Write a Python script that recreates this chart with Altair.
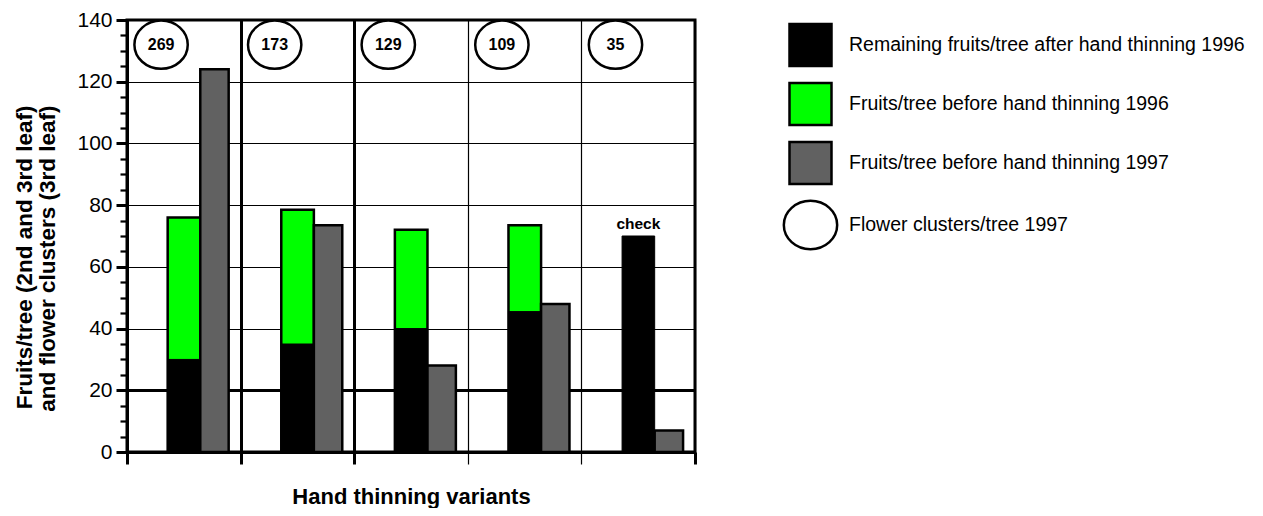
import altair as alt
import pandas as pd

# ---------------- data ----------------
variant_index = [0, 1, 2, 3, 4]                    # five hand thinning variants (unlabelled)
remaining_1996 = [30, 35, 40, 45.5, 70]            # black
before_1996 = [76, 78.5, 72, 73.5, None]           # green (no value for the check)
before_1997 = [124, 73.5, 28, 48, 7]               # grey
flower_clusters_1997 = [269, 173, 129, 109, 35]    # numbers in the ellipses
variant_notes = ["", "", "", "", "check"]

series_names = [
    "Remaining fruits/tree after hand thinning 1996",
    "Fruits/tree before hand thinning 1996",
    "Fruits/tree before hand thinning 1997",
    "Flower clusters/tree 1997",
]
series_colors = ["#000000", "#00ff00", "#616161", "#ffffff"]

y_ticks = list(range(0, 141, 5))
x_ticks = [0, 1, 2, 3, 4, 5]
y_title = ["Fruits/tree (2nd and 3rd leaf)", "and flower clusters (3rd leaf)"]
x_title = "Hand thinning variants"

# ---------------- layout / style constants ----------------
FONT = "Liberation Sans"
W, H = 568, 432
LEFT_BAR, MID_BAR, RIGHT_BAR, CIRCLE_X = 0.358, 0.645, 0.895, 0.30
FLOWER_Y = 132
SYMBOL_SIZE = 1764
ELLIPSE = "M-1.27,0A1.27,1.15,0,1,1,1.27,0A1.27,1.15,0,1,1,-1.27,0Z"
shape_range = ["square", "square", "square", ELLIPSE]

df = pd.DataFrame({
    "idx": variant_index,
    "remaining": remaining_1996,
    "before96": before_1996,
    "before97": before_1997,
    "flowers": flower_clusters_1997,
    "note": variant_notes,
})
df["xa"] = df["idx"] + LEFT_BAR
df["xb"] = df["idx"] + MID_BAR
df["xc"] = df["idx"] + RIGHT_BAR
df["xe"] = df["idx"] + CIRCLE_X
df["xm"] = (df["xa"] + df["xb"]) / 2
df["series"] = series_names[3]

x_scale = alt.Scale(domain=[0, 5], nice=False, zero=False)
y_scale = alt.Scale(domain=[0, 140], nice=False)

x_axis = alt.Axis(
    values=x_ticks, labels=False, title=x_title,
    titleFont=FONT, titleFontSize=22, titleFontWeight="bold", titleColor="black",
    titleBaseline="alphabetic", titleY=51,
    tickSize=12, tickColor="black",
    tickWidth={"condition": {"test": "datum.value == 3 || datum.value == 4", "value": 1.2}, "value": 3},
    domainColor="black", domainWidth=3,
    grid=True, gridColor="black",
    gridWidth={"condition": {"test": "datum.value == 1 || datum.value == 2", "value": 3}, "value": 1.2},
)

y_axis = alt.Axis(
    values=y_ticks,
    labelExpr="datum.value % 20 == 0 ? datum.label : ''",
    labelFont=FONT, labelFontSize=21, labelColor="black", labelPadding=4,
    labelOverlap=False, labelFlush=False,
    tickSize={"condition": {"test": "datum.value % 20 == 0", "value": 11}, "value": 7},
    tickWidth={"condition": {"test": "datum.value % 20 == 0", "value": 3}, "value": 2.2},
    tickColor="black", domainColor="black", domainWidth=3,
    grid=True, gridColor="black",
    gridOpacity={"condition": {"test": "datum.value % 20 == 0", "value": 1}, "value": 0},
    gridWidth={"condition": {"test": "datum.value == 20", "value": 3}, "value": 1.2},
    title=y_title, titleFont=FONT, titleFontSize=22.5, titleFontWeight="bold", titleColor="black",
    titleAngle=270, titleAlign="right", titleBaseline="alphabetic", titleLineHeight=23,
    titleX=-96, titleY=85,
)

legend = alt.Legend(
    title=None, orient="none", legendX=661, legendY=2.5, direction="vertical",
    symbolSize=SYMBOL_SIZE, symbolStrokeWidth=2.5, symbolOpacity=1,
    labelFont=FONT, labelFontSize=19.5, labelColor="black", labelLimit=600,
    labelOffset=16, rowPadding=6, padding=0,
)


def X(field):
    return alt.X(field, type="quantitative", scale=x_scale, axis=x_axis)


def Y(field):
    return alt.Y(field, type="quantitative", scale=y_scale, axis=y_axis)


base = alt.Chart(df)

green = base.mark_rect(fill=series_colors[1], stroke="black", strokeWidth=2.5).encode(
    x=X("xa"), x2="xb", y=Y("before96"), y2=alt.datum(0)
)
black = base.mark_rect(fill=series_colors[0], stroke="black", strokeWidth=1).encode(
    x=X("xa"), x2="xb", y=Y("remaining"), y2=alt.datum(0)
)
grey = base.mark_rect(fill=series_colors[2], stroke="black", strokeWidth=2.5).encode(
    x=X("xb"), x2="xc", y=Y("before97"), y2=alt.datum(0)
)

ellipses = base.mark_point(filled=True, stroke="black", strokeWidth=2.5, size=SYMBOL_SIZE, opacity=1).encode(
    x=X("xe"),
    y=alt.YDatum(FLOWER_Y, type="quantitative", scale=y_scale, axis=y_axis),
    fill=alt.Fill("series:N", scale=alt.Scale(domain=series_names, range=series_colors), legend=legend),
    shape=alt.Shape("series:N", scale=alt.Scale(domain=series_names, range=shape_range), legend=legend),
)

numbers = base.mark_text(font=FONT, fontWeight="bold", fontSize=16, color="black", baseline="middle").encode(
    x=X("xe"),
    y=alt.YDatum(FLOWER_Y, type="quantitative", scale=y_scale, axis=y_axis),
    text=alt.Text("flowers:Q"),
)

check = base.transform_filter("datum.note != ''").mark_text(
    font=FONT, fontWeight="bold", fontSize=15.5, color="black", baseline="alphabetic", dy=-7
).encode(
    x=X("xm"), y=Y("remaining"), text="note:N"
)

chart = alt.layer(green, black, grey, ellipses, numbers, check).properties(
    width=W, height=H,
    autosize=alt.AutoSizeParams(type="none"),
    padding={"left": 119, "top": 12, "right": 560, "bottom": 56},
).configure_view(stroke="black", strokeWidth=3)

chart.save("out.html", embed_options={"renderer": "svg", "actions": False})
